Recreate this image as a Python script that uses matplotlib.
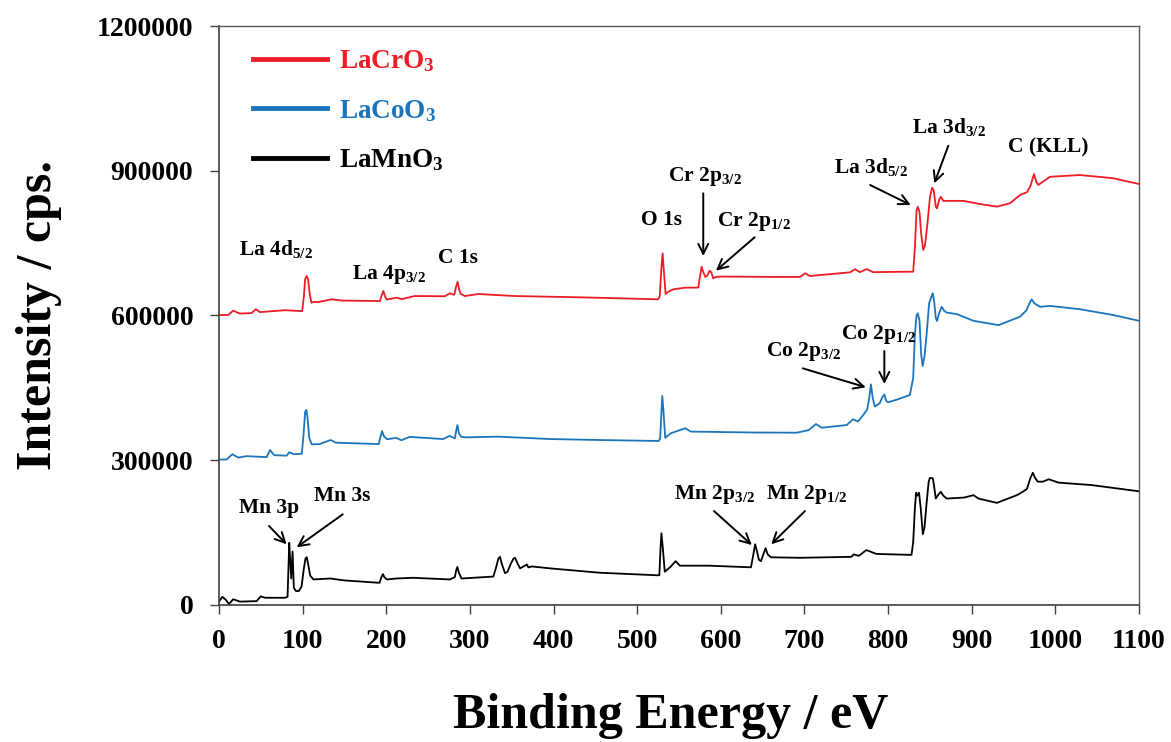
import matplotlib
matplotlib.use("Agg")
import matplotlib.pyplot as plt

plt.rcParams['font.family'] = ['Liberation Serif', 'DejaVu Serif']
plt.rcParams['font.weight'] = 'bold'
plt.rcParams['mathtext.fontset'] = 'custom'
plt.rcParams['mathtext.rm'] = 'Liberation Serif:bold'
plt.rcParams['mathtext.it'] = 'Liberation Serif:italic:bold'
plt.rcParams['mathtext.bf'] = 'Liberation Serif:bold'
plt.rcParams['mathtext.default'] = 'rm'

# spectra (binding energy in eV, intensity in cps)
cr_x = [0, 11, 17, 25, 39, 44, 49, 79, 99.5, 101.5, 103, 104.8, 106.5, 108.5, 110.5, 113,
        119, 134.7, 147, 192.5, 194.5, 196.5, 198.5, 200.5, 212.5, 218.5, 234, 270, 276,
        281.3, 283.5, 285.3, 287, 289, 294, 310, 354, 433.6, 525, 527, 529, 530.4, 532,
        534, 536, 543, 557, 573, 575, 577, 579, 581.5, 584, 586.5, 588.5, 591, 594, 599,
        671, 694.6, 700.6, 706.6, 754.4, 760.4, 766.4, 774.4, 782, 830, 832, 834, 835.5,
        837.5, 839.5, 842, 844, 847, 850, 852.5, 854.5, 857, 858.5, 861, 863, 866, 870,
        890, 910, 930, 945.7, 957.7, 966, 970, 974.4, 977, 979.6, 993.5, 1029.4, 1069, 1100]
cr_y = [601000, 601000, 610000, 604000, 605000, 613000, 607000, 611000, 609000, 640000,
        675000, 682000, 675000, 645000, 626500, 628000, 628000, 633600, 631000, 630000,
        642000, 650800, 640000, 633000, 637000, 634000, 640400, 640000, 646000, 643000,
        660000, 670000, 655000, 645000, 640400, 644600, 640400, 637700, 633600, 640000,
        700000, 729000, 690000, 644600, 648000, 654300, 657700, 658000, 680000, 701000,
        690000, 680000, 683000, 693000, 690000, 677000, 680000, 680800, 680000, 680000,
        687600, 682000, 689600, 696000, 690000, 696500, 690000, 691000, 740000, 818000,
        825800, 815000, 770000, 736000, 745000, 790000, 845000, 865300, 860000, 826000,
        822500, 840000, 846600, 838000, 838000, 838000, 831400, 826000, 833000, 850000,
        856000, 868000, 893700, 878000, 871000, 888000, 891600, 885000, 873000]

co_x = [0, 9, 16, 23, 33, 57, 61, 66, 81, 84, 89.5, 99, 101, 103, 104.5, 106, 108, 111,
        120, 133.5, 140, 191, 193, 195, 197, 201, 212, 218, 228, 268, 275.6, 282, 283.5,
        285, 287, 289.7, 294.5, 334, 396, 455, 525.7, 527.5, 529, 530, 531.5, 533.5, 540,
        557.5, 564, 642.5, 690.7, 705, 713.8, 720.6, 750.5, 758, 764, 771, 775, 777.5,
        779.5, 781.5, 784, 790, 793, 795.5, 798, 800, 810, 826, 830, 832, 834, 835.5,
        837.5, 839.5, 841.3, 843.5, 846, 849, 852, 853.3, 855, 857, 858.5, 861, 864, 867,
        870, 882, 902, 932, 957.7, 965, 969, 971.7, 975, 981.6, 993.5, 1029.4, 1069, 1100]
co_y = [301000, 301000, 312000, 305000, 308000, 306000, 320700, 310000, 309000, 316000,
        312000, 313000, 350000, 400000, 404000, 385000, 345000, 332500, 333000, 341500,
        336000, 333000, 348000, 360000, 350000, 343000, 346000, 341000, 348000, 343500,
        350000, 345000, 360000, 372600, 355000, 348000, 347000, 348500, 343500, 341500,
        339500, 345000, 400000, 433000, 400000, 346000, 355400, 366000, 359000, 357000,
        356700, 362000, 374700, 367000, 372600, 384500, 380000, 395000, 405000, 430000,
        457000, 430000, 411000, 418000, 430000, 436000, 422000, 420000, 425000, 435000,
        470000, 560000, 600000, 604500, 590000, 520000, 495000, 515000, 560000, 625000,
        640000, 646000, 630000, 595000, 588500, 605000, 618000, 610000, 606000, 603000,
        589000, 580000, 597500, 610000, 625000, 633600, 625000, 618000, 620000, 613000,
        601000, 589000]

mn_x = [0, 4, 8, 12, 17, 25, 45, 50, 55, 79, 82, 84, 85.2, 86.4, 88, 89.5, 92, 95.5, 98.7,
        101.5, 103.5, 105, 107, 109, 113, 133, 150, 192, 194, 196, 198, 201, 212, 232, 276,
        282, 283.5, 285, 287, 290, 328, 331, 334, 336, 338, 342, 345, 349, 352, 354, 357,
        360, 368, 370, 374, 396, 455, 525, 526.5, 528, 529, 530.5, 533, 540, 546, 551, 586,
        636, 638.5, 641, 643, 645.5, 648, 651, 653.5, 656, 660, 695, 756, 759, 765, 774,
        786, 828, 830, 832, 833.5, 835, 837, 839, 841.5, 843.5, 846, 848.5, 850, 853.5,
        855, 857, 860, 863, 866, 870, 891, 902, 908, 930, 954, 961, 966, 970, 973, 976,
        979, 985, 992, 1004, 1043, 1100]
mn_y = [6000, 16000, 10000, 1000, 11000, 6000, 7000, 17000, 14000, 14000, 16000, 128000,
        90000, 54000, 110000, 35000, 28000, 28000, 37000, 75000, 96000, 98000, 80000,
        60000, 52000, 54000, 50000, 45000, 56000, 63000, 56000, 52000, 54000, 55500,
        52000, 57000, 70000, 78000, 65000, 54000, 58000, 75000, 95000, 99000, 85000,
        65000, 68000, 85000, 95000, 97000, 85000, 75000, 83000, 77000, 79000, 75000,
        66000, 60600, 61000, 120000, 148000, 120000, 68000, 78500, 90000, 80600, 80600,
        77200, 100000, 125000, 112000, 93000, 90000, 105000, 117000, 104000, 98000,
        97000, 99000, 104000, 101000, 113000, 105000, 103000, 130000, 200000, 232000,
        226000, 232000, 200000, 146000, 160000, 210000, 255000, 263000, 262000, 245000,
        220000, 228000, 234000, 226000, 220000, 222000, 227000, 220000, 211000, 227000,
        234000, 240000, 262000, 273600, 262000, 255000, 255000, 260000, 253000, 248000,
        235000]

series_labels = [r'LaCrO$_3$', r'LaCoO$_3$', r'LaMnO$_3$']
series_colors = ['#ee1c24', '#1b75bc', '#000000']

# peak labels: text, text position, arrow tail, arrow head (None = no arrow)
peaks = [
    (r'La 4d$_{5/2}$', (24, 725600), None, None),
    (r'La 4p$_{3/2}$', (159, 675000), None, None),
    ('C 1s', (262, 708300), None, None),
    ('O 1s', (504.5, 788000), None, None),
    (r'Cr 2p$_{3/2}$', (536.5, 879200), (579, 853600), (579, 723500)),
    (r'Cr 2p$_{1/2}$', (596, 785800), (640.4, 762300), (594.2, 693000)),
    (r'La 3d$_{5/2}$', (735, 896400), (778.5, 870900), (827.1, 829400)),
    (r'La 3d$_{3/2}$', (828.5, 978200), (872, 952500), (855.2, 874400)),
    ('C (KLL)', (943.7, 938000), None, None),
    (r'Co 2p$_{3/2}$', (654.5, 516000), (698, 490300), (773.3, 451000)),
    (r'Co 2p$_{1/2}$', (743.7, 550500), (795.5, 526300), (795.5, 457800)),
    (r'Mn 2p$_{3/2}$', (544, 219000), (591.8, 194100), (637.1, 123500)),
    (r'Mn 2p$_{1/2}$', (653.6, 219000), (700.6, 194100), (660.2, 125000)),
    ('Mn 3p', (24.3, 189300), (59.8, 163000), (80.9, 125000)),
    ('Mn 3s', (114, 214900), (147.9, 187200), (92.9, 118700)),
]

fig = plt.figure(figsize=(11.71, 7.42), dpi=100)
ax = fig.add_axes([0.187, 0.1853, 0.7857, 0.779])

for xs, ys, lab, col in zip([cr_x, co_x, mn_x], [cr_y, co_y, mn_y], series_labels, series_colors):
    ax.plot(xs, ys, color=col, lw=1.3, label=lab)

for txt, pos, tail, head in peaks:
    ax.text(pos[0], pos[1], txt, fontsize=15.5, ha='left', va='baseline')
    if tail is not None:
        ax.annotate('', xy=head, xytext=tail,
                    arrowprops=dict(arrowstyle='->', color='black', lw=1.4,
                                    mutation_scale=18, shrinkA=0, shrinkB=0))

ax.set_xlim(0, 1100)
ax.set_ylim(0, 1200000)
ax.set_xticks(range(0, 1101, 100))
ax.set_yticks([0, 300000, 600000, 900000, 1200000])
ax.set_yticklabels(['0', '300000', '600000', '900000', '1200000'])
ax.tick_params(direction='out', length=6.5, width=1, colors='#404040',
               labelcolor='black', labelsize=20, pad=11)
ax.tick_params(axis='y', pad=12)
for s in ['left', 'bottom']:
    ax.spines[s].set_color('#404040')
    ax.spines[s].set_linewidth(1.2)
for s in ['top', 'right']:
    ax.spines[s].set_color('#595959')
    ax.spines[s].set_linewidth(1.0)

ax.set_xlabel('Binding Energy / eV', fontsize=36, fontweight='bold', labelpad=28)
ax.xaxis.label.set_x(0.491)
ax.set_ylabel('Intensity / cps.', fontsize=36, fontweight='bold', labelpad=25)

leg = ax.legend(loc='upper left', frameon=False, fontsize=19.5, labelcolor='linecolor',
                handlelength=2.75, handletextpad=0.45, labelspacing=0.87,
                bbox_to_anchor=(0.01, 1.004))
for ln in leg.get_lines():
    ln.set_linewidth(3.5)

fig.savefig('out.png', dpi=100)
